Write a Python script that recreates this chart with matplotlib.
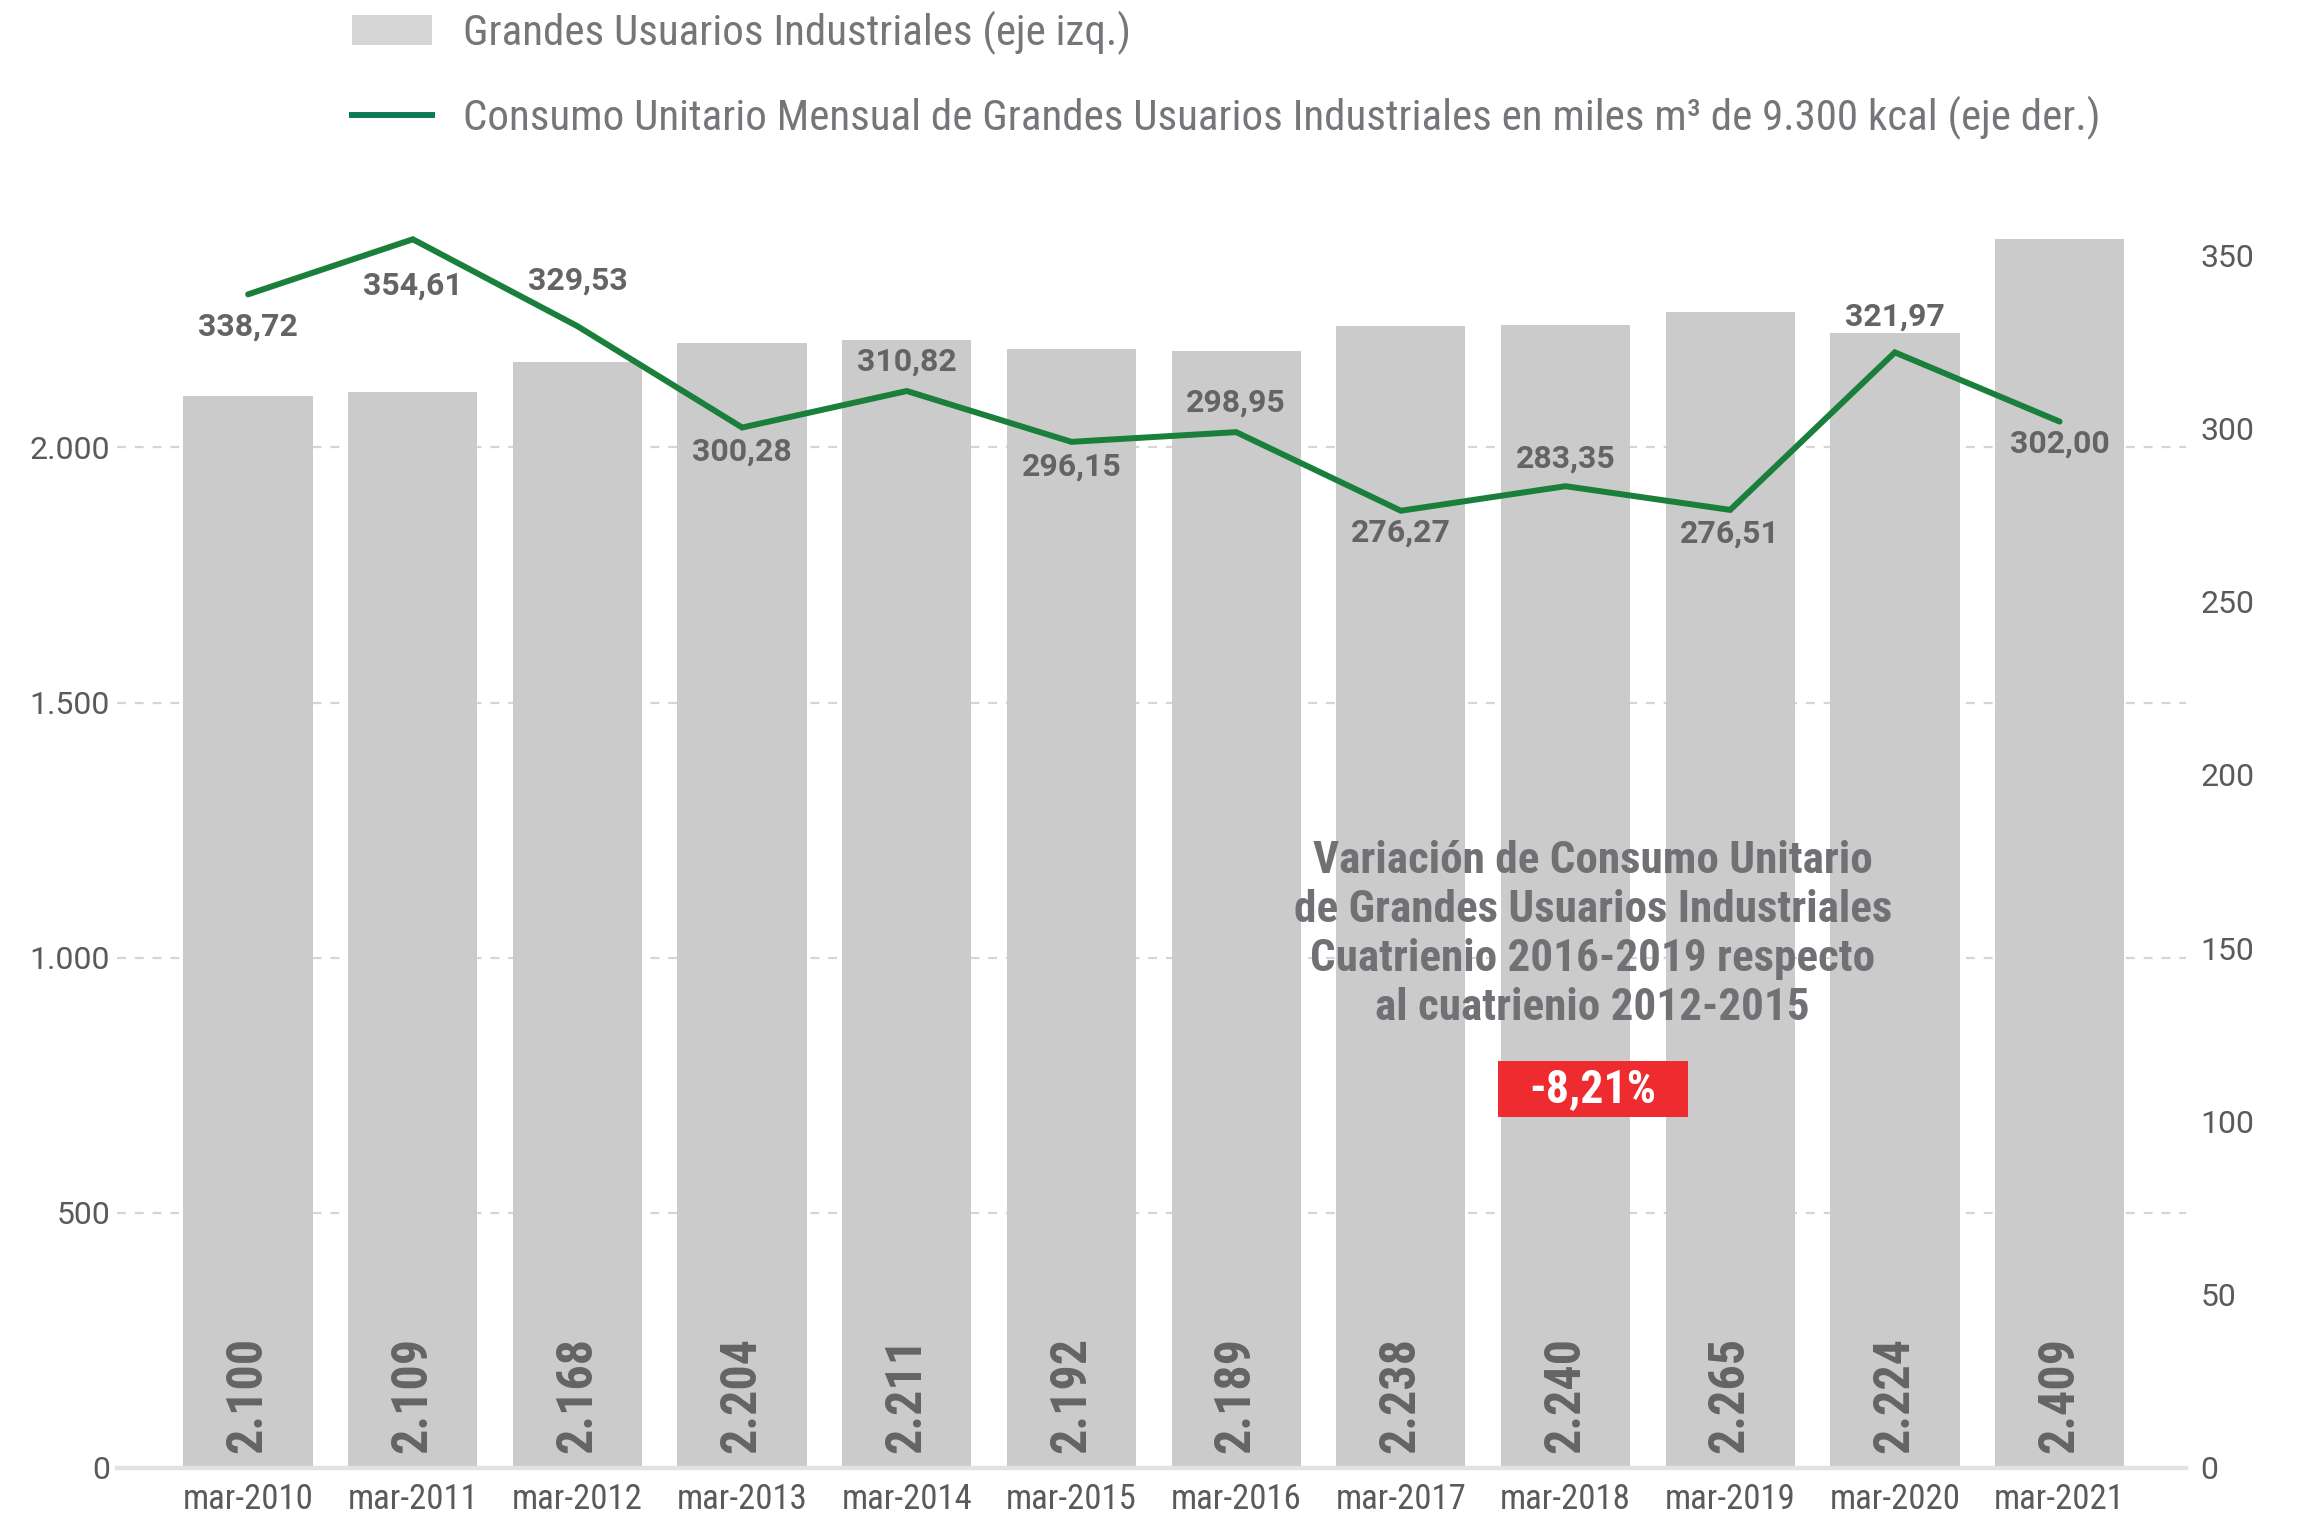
import matplotlib
matplotlib.use('Agg')
import matplotlib.pyplot as plt
from matplotlib import font_manager
from matplotlib.patches import Rectangle, Patch
from matplotlib.lines import Line2D

# datos
periodos = ['mar-2010', 'mar-2011', 'mar-2012', 'mar-2013', 'mar-2014', 'mar-2015',
            'mar-2016', 'mar-2017', 'mar-2018', 'mar-2019', 'mar-2020', 'mar-2021']
usuarios = [2100, 2109, 2168, 2204, 2211, 2192, 2189, 2238, 2240, 2265, 2224, 2409]
consumo = [338.72, 354.61, 329.53, 300.28, 310.82, 296.15, 298.95, 276.27,
           283.35, 276.51, 321.97, 302.00]
ticks_izq = [0, 500, 1000, 1500, 2000]
ticks_der = [0, 50, 100, 150, 200, 250, 300, 350]
# desplazamiento vertical de cada etiqueta de la linea (puntos)
desp_etiq = [-23, -33, 33, -17, 21, -18, 21, -16, 20, -17, 26, -16]

instaladas = {f.name for f in font_manager.fontManager.ttflist}
def elegir(opciones):
    for o in opciones:
        if o in instaladas:
            return o
    return 'DejaVu Sans'

f_cond = elegir(['Roboto Condensed', 'Liberation Sans Narrow', 'DejaVu Sans Condensed', 'Roboto'])
f_norm = elegir(['Roboto', 'DejaVu Sans'])

gris_barra = '#cbcbcb'
verde = '#1b7f3c'
gris_txt = '#636466'
gris_tick = '#5a5a5a'

def fmt_miles(v):
    return f'{v:,.0f}'.replace(',', '.')

fig = plt.figure(figsize=(22.99, 15.14), dpi=100)
ax = fig.add_axes([0.0509, 0.0304, 0.9001, 0.8342])
ax2 = ax.twinx()

x = list(range(len(periodos)))
ax.bar(x, usuarios, width=0.785, color=gris_barra, zorder=2)
ax.set_xlim(-0.796, 11.77)
ax.set_ylim(0, 2475)
ax2.set_ylim(0, 2475 / 6.79)

ax.set_yticks(ticks_izq)
ax.set_yticklabels([fmt_miles(t) for t in ticks_izq])
ax2.set_yticks(ticks_der)
ax2.set_yticklabels([str(t) for t in ticks_der])
ax.set_xticks(x)
ax.set_xticklabels(periodos)

ax.grid(axis='y', linestyle=(0, (4, 4)), color='#d5d5d5', lw=1.6)
ax.set_axisbelow(True)
for a in (ax, ax2):
    for s in ('top', 'left', 'right'):
        a.spines[s].set_visible(False)
    a.spines['bottom'].set_color('#e2e2e2')
    a.spines['bottom'].set_linewidth(3)
ax.tick_params(axis='y', length=0, pad=5, labelsize=23, labelcolor=gris_tick)
ax2.tick_params(axis='y', length=0, pad=10, labelsize=23, labelcolor=gris_tick)
ax.tick_params(axis='x', length=0, pad=11, labelsize=25, labelcolor=gris_tick)
for lab in ax.get_yticklabels() + ax2.get_yticklabels():
    lab.set_fontfamily(f_norm)
for lab in ax.get_xticklabels():
    lab.set_fontfamily(f_cond)

# etiquetas de barras
for xi, v in zip(x, usuarios):
    ax.text(xi, 30, fmt_miles(v), rotation=90, ha='center', va='bottom',
            fontsize=36, fontweight='bold', color=gris_txt, family=f_cond, zorder=3)

# linea
ax2.plot(x, consumo, color=verde, lw=4.3, solid_capstyle='round', solid_joinstyle='miter', zorder=4)
for xi, v, d in zip(x, consumo, desp_etiq):
    ax2.annotate(f'{v:.2f}'.replace('.', ','), (xi, v), xytext=(0, d),
                 textcoords='offset points', ha='center', va='center',
                 fontsize=23, fontweight='bold', color=gris_txt, family=f_norm, zorder=5)

# recuadro de variacion
ax.text(8.165, 1045, 'Variación de Consumo Unitario\nde Grandes Usuarios Industriales\n'
        'Cuatrienio 2016-2019 respecto\nal cuatrienio 2012-2015',
        ha='center', va='center', fontsize=32.5, fontweight='bold', color='#717175',
        family=f_cond, linespacing=1.215, zorder=6)
ax.add_patch(Rectangle((8.165 - 0.577, 743 - 55), 1.154, 110, facecolor='#ee2b2f',
                       edgecolor='none', zorder=6))
ax.text(8.165, 743, '-8,21%', ha='center', va='center', fontsize=33, fontweight='bold',
        color='white', family=f_cond, zorder=7)

# leyenda
handles = [Patch(facecolor='#d6d6d6', edgecolor='none'),
           Line2D([0], [0], color='#0b7a55', lw=4.3)]
labels = ['Grandes Usuarios Industriales (eje izq.)',
          'Consumo Unitario Mensual de Grandes Usuarios Industriales en miles m³ de 9.300 kcal (eje der.)']
leg = fig.legend(handles, labels, loc='upper left', bbox_to_anchor=(0.1531, 0.993),
                 frameon=False, borderpad=0, borderaxespad=0, handlelength=1.85,
                 handletextpad=0.72, labelspacing=0.95,
                 prop={'family': f_cond, 'size': 31})
for t in leg.get_texts():
    t.set_color('#76767a')

fig.savefig('out.png', dpi=100)
